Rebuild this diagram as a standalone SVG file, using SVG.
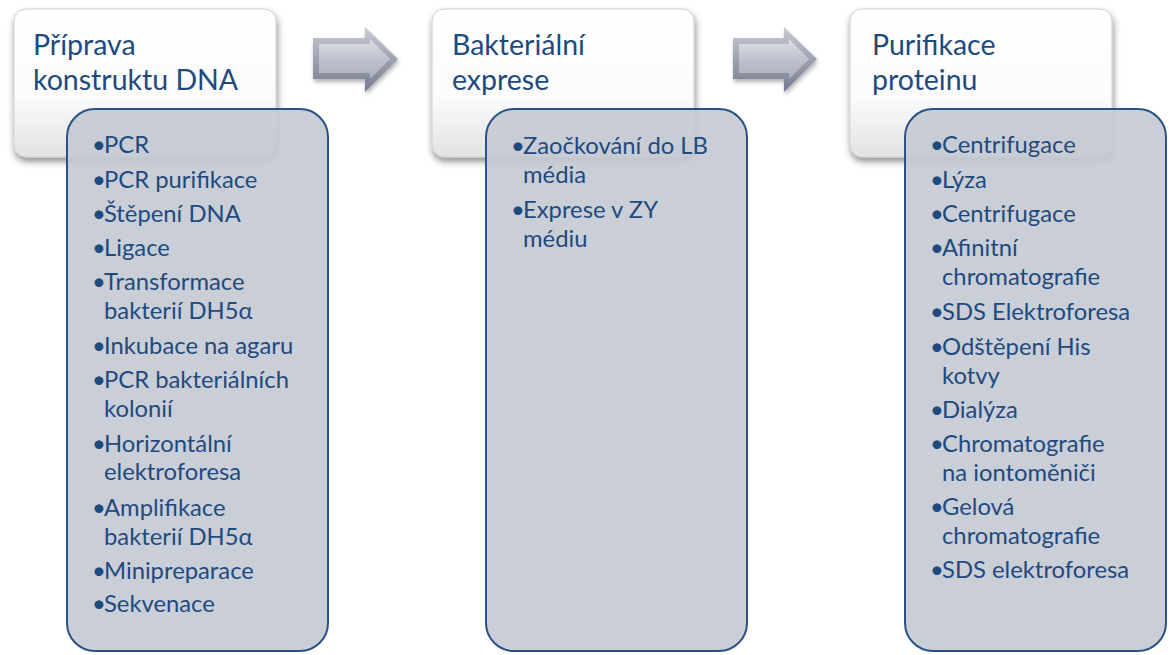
<svg xmlns="http://www.w3.org/2000/svg" width="1173" height="655" viewBox="0 0 1173 655">
  <defs>
    <linearGradient id="topFill" x1="0" y1="0" x2="0" y2="1">
      <stop offset="0" stop-color="#ffffff"/>
      <stop offset="0.6" stop-color="#fbfbfb"/>
      <stop offset="1" stop-color="#e2e2e2"/>
    </linearGradient>
    <linearGradient id="arrowFill" x1="0" y1="0" x2="0" y2="1">
      <stop offset="0" stop-color="#c9ccd6"/>
      <stop offset="0.5" stop-color="#9ea3b1"/>
      <stop offset="1" stop-color="#737a8c"/>
    </linearGradient>
    <linearGradient id="arrowFace" x1="0" y1="0" x2="0" y2="1">
      <stop offset="0" stop-color="#dcdee5"/>
      <stop offset="0.5" stop-color="#bfc3cd"/>
      <stop offset="1" stop-color="#a9aebb"/>
    </linearGradient>
    <filter id="shadow" x="-10%" y="-10%" width="125%" height="130%">
      <feDropShadow dx="1" dy="4" stdDeviation="3.5" flood-color="#000" flood-opacity="0.45"/>
    </filter>
    <filter id="ashadow" x="-20%" y="-20%" width="150%" height="160%">
      <feDropShadow dx="1" dy="3" stdDeviation="2" flood-color="#000" flood-opacity="0.3"/>
    </filter>
    <style>
      .top { fill: url(#topFill); stroke: #cfcfcf; stroke-width: 1; filter: url(#shadow); }
      .list { fill: #c4c9d3; fill-opacity: 0.9; stroke: #2b5286; stroke-width: 2; }
      .title { font-family: Lato, "Noto Sans", sans-serif; font-size: 28.5px; fill: #1f4a7e; }
      .item { font-family: Lato, "Noto Sans", sans-serif; font-size: 23.8px; fill: #1f4a7e; }
      .arrow { fill: url(#arrowFill); filter: url(#ashadow); }
      .face { fill: url(#arrowFace); }
    </style>
  </defs>

  <g id="connectors">
    <g id="arrow1">
      <path class="arrow" d="M313,38 H365 V27 L398,59 L365,92 V79 H313 Z"/>
      <path class="face" d="M319,44 H370 V39 L390,59 L370,79 V73 H319 Z"/>
    </g>
    <g id="arrow2">
      <path class="arrow" d="M733,38 H784 V27 L817,59 L784,92 V79 H733 Z"/>
      <path class="face" d="M739,44 H789 V39 L809,59 L789,79 V73 H739 Z"/>
    </g>
  </g>

  <g id="node1">
    <rect class="top" x="14" y="9" width="262" height="148" rx="12"/>
    <text class="title"><tspan x="33" y="55">Příprava</tspan><tspan x="33" y="90">konstruktu DNA</tspan></text>
    <rect class="list" x="67" y="109" width="261" height="542" rx="28"/>
    <g class="item">
      <text x="92" y="153">•<tspan x="104">PCR</tspan></text>
      <text x="92" y="188">•<tspan x="104">PCR purifikace</tspan></text>
      <text x="92" y="222">•<tspan x="104">Štěpení DNA</tspan></text>
      <text x="92" y="256">•<tspan x="104">Ligace</tspan></text>
      <text x="92" y="290">•<tspan x="104">Transformace</tspan><tspan x="104" y="319">bakterií DH5α</tspan></text>
      <text x="92" y="354">•<tspan x="104">Inkubace na agaru</tspan></text>
      <text x="92" y="388">•<tspan x="104">PCR bakteriálních</tspan><tspan x="104" y="417">kolonií</tspan></text>
      <text x="92" y="452">•<tspan x="104">Horizontální</tspan><tspan x="104" y="480">elektroforesa</tspan></text>
      <text x="92" y="516">•<tspan x="104">Amplifikace</tspan><tspan x="104" y="545">bakterií DH5α</tspan></text>
      <text x="92" y="579">•<tspan x="104">Minipreparace</tspan></text>
      <text x="92" y="612">•<tspan x="104">Sekvenace</tspan></text>
    </g>
  </g>

  <g id="node2">
    <rect class="top" x="432" y="9" width="262" height="148" rx="12"/>
    <text class="title"><tspan x="452" y="55">Bakteriální</tspan><tspan x="452" y="90">exprese</tspan></text>
    <rect class="list" x="486" y="109" width="261" height="542" rx="28"/>
    <g class="item">
      <text x="511" y="154">•<tspan x="523">Zaočkování do LB</tspan><tspan x="523" y="183">média</tspan></text>
      <text x="511" y="218">•<tspan x="523">Exprese v ZY</tspan><tspan x="523" y="247">médiu</tspan></text>
    </g>
  </g>

  <g id="node3">
    <rect class="top" x="850" y="9" width="262" height="148" rx="12"/>
    <text class="title"><tspan x="872" y="55">Purifikace</tspan><tspan x="872" y="90">proteinu</tspan></text>
    <rect class="list" x="905" y="109" width="261" height="542" rx="28"/>
    <g class="item">
      <text x="930" y="153">•<tspan x="942">Centrifugace</tspan></text>
      <text x="930" y="188">•<tspan x="942">Lýza</tspan></text>
      <text x="930" y="222">•<tspan x="942">Centrifugace</tspan></text>
      <text x="930" y="256">•<tspan x="942">Afinitní</tspan><tspan x="942" y="285">chromatografie</tspan></text>
      <text x="930" y="320">•<tspan x="942">SDS Elektroforesa</tspan></text>
      <text x="930" y="355">•<tspan x="942">Odštěpení His</tspan><tspan x="942" y="384">kotvy</tspan></text>
      <text x="930" y="418">•<tspan x="942">Dialýza</tspan></text>
      <text x="930" y="452">•<tspan x="942">Chromatografie</tspan><tspan x="942" y="481">na iontoměniči</tspan></text>
      <text x="930" y="515">•<tspan x="942">Gelová</tspan><tspan x="942" y="544">chromatografie</tspan></text>
      <text x="930" y="578">•<tspan x="942">SDS elektroforesa</tspan></text>
    </g>
  </g>
</svg>
